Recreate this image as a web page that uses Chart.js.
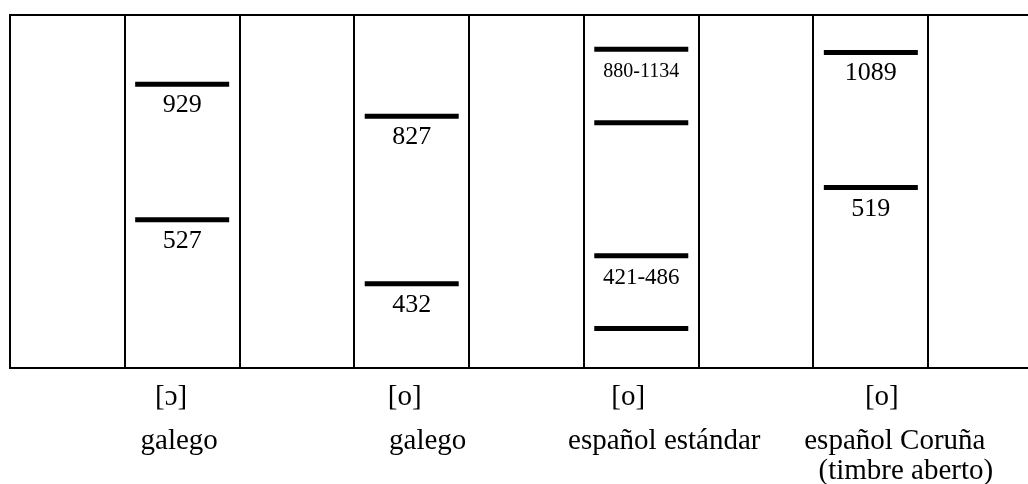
<!DOCTYPE html>
<html>
<head>
<meta charset="utf-8">
<script src="https://cdn.jsdelivr.net/npm/chart.js@4/dist/chart.umd.min.js"></script>
<style>
  html, body { margin: 0; padding: 0; background: #fff; overflow: hidden; }
  #wrap { width: 1050px; height: 484px; }
</style>
</head>
<body>
<div id="wrap"><canvas id="c"></canvas></div>
<script>
// nine equal columns, the vowel groups sit in the 2nd, 4th, 6th and 8th
const columns = ["c0", "[ɔ] galego", "c2", "[o] galego", "c4", "[o] español estándar", "c6", "[o] español Coruña", "c8"];

// formant bars: column index, schematic height (0 = bottom, 100 = top), printed value
const barColumns = [1, 1, 3, 3, 5, 5, 5, 5, 7, 7];
const barLevels = [80.4, 42.0, 71.3, 23.9, 90.3, 69.5, 31.8, 11.2, 89.4, 51.1];
const barTexts = ["929", "527", "827", "432", "880-1134", "", "421-486", "", "1089", "519"];

// captions under the grid
const groupColumns = [1, 3, 5, 7];
const vowelLabels = ["[ɔ]", "[o]", "[o]", "[o]"];
const groupLabels = [["galego"], ["galego"], ["español estándar"], ["español Coruña", "(timbre aberto)"]];

const SERIF = "'Liberation Serif', 'Times New Roman', 'DejaVu Serif', serif";

// horizontal nudges of the caption lines (first entry = vowel line)
const captionShift = [[-11, -3], [-7, 16], [-13, 23], [11, 24, 35]];

const valueText = {
    id: "valueText",
    afterDatasetsDraw: function (chart) {
        const ctx = chart.ctx;
        const xs = chart.scales.x, ys = chart.scales.y;
        ctx.save();
        ctx.fillStyle = "#000";
        ctx.textAlign = "center";
        ctx.textBaseline = "alphabetic";
        barTexts.forEach(function (t, i) {
            if (!t) return;
            var size = t.length > 7 ? 20 : (t.indexOf("-") >= 0 ? 23 : 26);
            ctx.font = size + "px " + SERIF;
            var x = xs.getPixelForValue(barColumns[i]);
            var y = ys.getPixelForValue(barLevels[i]) + 28;
            ctx.fillText(t, x, y);
        });
        ctx.restore();
    },
    afterDraw: function (chart) {
        const ctx = chart.ctx;
        const xs = chart.scales.x;
        ctx.save();
        ctx.fillStyle = "#000";
        ctx.textAlign = "center";
        ctx.textBaseline = "alphabetic";
        ctx.font = "29px " + SERIF;
        const baselines = [405, 449, 479];
        groupColumns.forEach(function (col, g) {
            var cx = xs.getPixelForValue(col);
            var lines = [vowelLabels[g]].concat(groupLabels[g]);
            lines.forEach(function (line, k) {
                ctx.fillText(line, cx + captionShift[g][k], baselines[k]);
            });
        });
        ctx.restore();
    },
};

new Chart(document.getElementById("c"), {
    type: "line",
    data: {
        labels: columns,
        datasets: [
            {
                data: barLevels.map(function (v, i) {
                    return { x: columns[barColumns[i]], y: v };
                }),
                showLine: false,
                clip: false,
                pointStyle: "line",
                pointRadius: 47,
                pointHoverRadius: 47,
                pointBorderWidth: 5,
                pointHoverBorderWidth: 5,
                borderColor: "#000",
                backgroundColor: "#000",
            },
        ],
    },
    options: {
        responsive: true,
        maintainAspectRatio: false,
        animation: false,
        events: [],
        layout: { autoPadding: false, padding: { left: 10, top: 15, right: 7, bottom: 116 } },
        scales: {
            x: {
                type: "category",
                offset: true,
                ticks: { display: false },
                grid: { offset: true, color: "#000", lineWidth: 2, drawTicks: false },
                border: { display: true, color: "#000", width: 2 },
            },
            y: {
                min: 0,
                max: 100,
                ticks: { display: false, stepSize: 100 },
                grid: { color: "#000", lineWidth: 2, drawTicks: false },
                border: { display: true, color: "#000", width: 2 },
            },
        },
        plugins: { legend: { display: false }, tooltip: { enabled: false } },
    },
    plugins: [valueText],
});
</script>
</body>
</html>
